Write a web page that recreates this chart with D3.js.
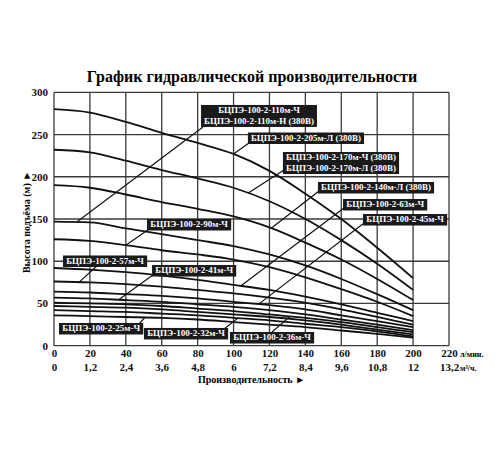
<!DOCTYPE html>
<html><head><meta charset="utf-8">
<script src="https://cdn.jsdelivr.net/npm/d3@7"></script>
<style>body{margin:0;background:#fff}svg{display:block}</style>
</head><body>
<svg id="c" width="500" height="450"></svg>
<script>
// ---- data ----
const flowLpm = [0,20,40,60,80,100,120,140,160,180,200];
const curve1  = [280,276,265,252,240,227,207,180,150,116,80];
const curve2  = [232,229,219,208,198,187,171,150,125,97,66];
const curve3  = [190,187,179,170,162,153,140,122,102,79,54];
const curve4  = [147,146,139,132,125,118,108,95,79,61,42];
const curve5  = [126,124,119,113,108,102,93,81,67,52,35];
const curve6  = [92,90,87,83,78,72,66,58,49,39,29];
const curve7  = [76,75,73,70,66,62,57,51,43,34,25];
const curve8  = [64,63,61,59,56,52,48,43,36,29,22];
const curve9  = [57,56,54,52,49,46,42,37,31,25,18.5];
const curve10 = [51,50,49,47,44,41,37,33,28,22,16];
const curve11 = [47,46,45,43,40,37,34,30,25,19,13.5];
const curve12 = [42,41,40,38,36,33,30,26,22,17,11];
const curve13 = [36,35,34,33,31,28,25,22,18,14,9.5];
const curves = [curve1,curve2,curve3,curve4,curve5,curve6,curve7,curve8,curve9,curve10,curve11,curve12,curve13];

const xTicksLpm = [0,20,40,60,80,100,120,140,160,180,200,220];
const xTicksM3h = ["0","1,2","2,4","3,6","4,8","6","7,2","8,4","9,6","10,8","12","13,2"];
const yTicks = [0,50,100,150,200,250,300];

// label texts, anchor (flow, head) of box top-left, leader start (flow, head), target curve index & flow
const labelLines = [
  ["БЦПЭ-100-2-110м-Ч","БЦПЭ-100-2-110м-Н (380В)"],
  ["БЦПЭ-100-2-205м-Л (380В)"],
  ["БЦПЭ-100-2-170м-Ч (380В)","БЦПЭ-100-2-170м-Л (380В)"],
  ["БЦПЭ-100-2-140м-Л (380В)"],
  ["БЦПЭ-100-2-63м-Ч"],
  ["БЦПЭ-100-2-45м-Ч"],
  ["БЦПЭ-100-2-90м-Ч"],
  ["БЦПЭ-100-2-57м-Ч"],
  ["БЦПЭ-100-2-41м-Ч"],
  ["БЦПЭ-100-2-25м-Ч"],
  ["БЦПЭ-100-2-32м-Ч"],
  ["БЦПЭ-100-2-36м-Ч"]
];
const labelAnchor = [[81.9,285],[108,252.4],[127.5,229.3],[147,193.8],[161,173.7],[172.1,155.9],[51.8,150],[5,106.8],[54.6,95.5],[2.8,26.9],[50.1,21],[98,16.2]];
const leaderFrom  = [[83,258.8],[108.6,240],[128.1,208],[147.6,183.1],[161.5,163],[172.7,145.2],[52.2,137],[24.5,95.5],[55.1,83.7],[47.3,25.7],[94.7,19.8],[121.4,16.2]];
const leaderCurve = [3,0,1,2,5,7,4,6,8,12,11,9];
const leaderFlow  = [12.7,100,108,121,104,114,40,14,36,50.7,102.5,131.5];

// ---- drawing ----
const svg = d3.select("#c");
const x = d3.scaleLinear().domain([0,220]).range([54,449]);
const y = d3.scaleLinear().domain([0,300]).range([345.7,92.3]);
const serif = "'Liberation Serif','Times New Roman',serif";

svg.append("text").attr("x",252).attr("y",82).attr("text-anchor","middle")
  .attr("font-family",serif).attr("font-weight","bold").attr("font-size",16)
  .text("График гидравлической производительности");

// grid
const g = svg.append("g");
g.selectAll(".vg").data(xTicksLpm).join("line")
  .attr("x1",d=>x(d)).attr("x2",d=>x(d)).attr("y1",y(0)).attr("y2",y(300))
  .attr("stroke","#3a3a3a").attr("stroke-width",1.3);
g.selectAll(".hg").data(yTicks).join("line")
  .attr("x1",x(0)).attr("x2",x(220)).attr("y1",d=>y(d)).attr("y2",d=>y(d))
  .attr("stroke","#3a3a3a").attr("stroke-width",1.3);

// y axis labels
const yAxis = d3.axisLeft(y).tickValues(yTicks).tickSize(0).tickPadding(6);
const ya = svg.append("g").attr("transform",`translate(${x(0)},0)`).call(yAxis);
ya.select(".domain").remove();
ya.selectAll("text").attr("font-family",serif).attr("font-weight","bold").attr("font-size",11).attr("fill","#111");

// x axis labels (row 1: l/min)
const xAxis1 = d3.axisBottom(x).tickValues(xTicksLpm).tickSize(0).tickPadding(4);
const xa1 = svg.append("g").attr("transform",`translate(0,${y(0)})`).call(xAxis1);
xa1.select(".domain").remove();
xa1.selectAll("text").attr("font-family",serif).attr("font-weight","bold").attr("font-size",11).attr("fill","#111");
// row 2: m3/h
const xAxis2 = d3.axisBottom(x).tickValues(xTicksLpm).tickFormat((d,i)=>xTicksM3h[i]).tickSize(0).tickPadding(18);
const xa2 = svg.append("g").attr("transform",`translate(0,${y(0)})`).call(xAxis2);
xa2.select(".domain").remove();
xa2.selectAll("text").attr("font-family",serif).attr("font-weight","bold").attr("font-size",11).attr("fill","#111");

svg.append("text").attr("x",x(220)+11).attr("y",357).attr("font-family",serif).attr("font-weight","bold")
  .attr("font-size",8).text("л/мин.");
svg.append("text").attr("x",x(220)+11).attr("y",371).attr("font-family",serif).attr("font-weight","bold")
  .attr("font-size",8).text("м³/ч.");

svg.append("text").attr("x",198).attr("y",383).attr("font-family",serif).attr("font-weight","bold")
  .attr("font-size",10).text("Производительность ►");
svg.append("text").attr("transform",`translate(30,222) rotate(-90)`).attr("text-anchor","middle")
  .attr("font-family",serif).attr("font-weight","bold").attr("font-size",10).text("Высота подъёма (м) ►");

// curves
const line = d3.line().x((d,i)=>x(flowLpm[i])).y(d=>y(d)).curve(d3.curveMonotoneX);
svg.append("g").selectAll("path").data(curves).join("path")
  .attr("d",line).attr("fill","none").attr("stroke","#111").attr("stroke-width",1.8);

// interpolate on a curve
function headAt(ci,q){
  const arr = curves[ci];
  const i = Math.min(flowLpm.length-2, Math.max(0, Math.floor(q/20)));
  const t = (q-flowLpm[i])/(flowLpm[i+1]-flowLpm[i]);
  return arr[i]+(arr[i+1]-arr[i])*t;
}

// leaders
svg.append("g").selectAll("line").data(leaderFrom).join("line")
  .attr("x1",d=>x(d[0])).attr("y1",d=>y(d[1]))
  .attr("x2",(d,i)=>x(leaderFlow[i])).attr("y2",(d,i)=>y(headAt(leaderCurve[i],leaderFlow[i])))
  .attr("stroke","#111").attr("stroke-width",1.2);

// label boxes
const lg = svg.append("g");
labelLines.forEach((lines,i)=>{
  const bx = x(labelAnchor[i][0]), by = y(labelAnchor[i][1]);
  const grp = lg.append("g");
  const rect = grp.append("rect").attr("fill","#1a1a1a");
  const t = grp.append("text").attr("font-family",serif).attr("font-weight","bold")
    .attr("font-size",9).attr("fill","#fff").attr("text-anchor","middle");
  lines.forEach((s,j)=>t.append("tspan").attr("x",0).attr("dy",j===0?0:10.5).text(s));
  const bb = t.node().getBBox();
  const w = bb.width+6, h = lines.length*10.5+1;
  rect.attr("x",bx).attr("y",by).attr("width",w).attr("height",h);
  t.attr("transform",`translate(${bx+w/2},${by+8.3})`);
});
</script>
</body></html>
